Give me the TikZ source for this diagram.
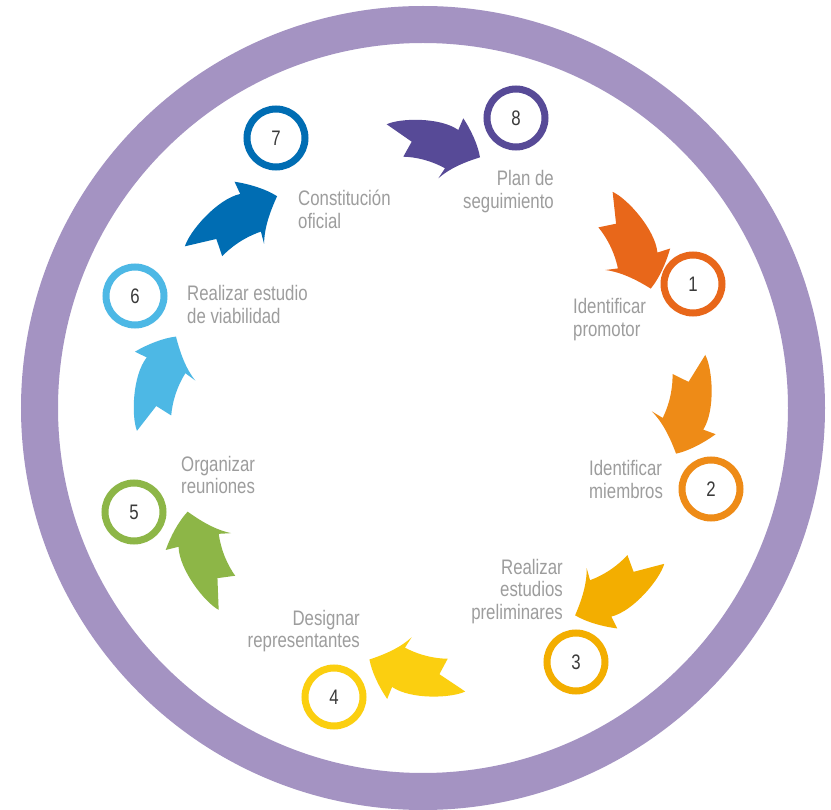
\documentclass[tikz,border=0pt]{standalone}
\usepackage{fontspec}
\setmainfont{Liberation Sans}[FakeStretch=0.8]
\definecolor{ringcol}{HTML}{A493C2}
\definecolor{c8}{HTML}{574A97}
\definecolor{c1}{HTML}{E8671A}
\definecolor{c2}{HTML}{EE8B17}
\definecolor{c3}{HTML}{F3AE00}
\definecolor{c4}{HTML}{FBCF10}
\definecolor{c5}{HTML}{8DB647}
\definecolor{c6}{HTML}{4DB8E5}
\definecolor{c7}{HTML}{006DB3}
\definecolor{labelcol}{HTML}{9D9D9D}
\definecolor{numcol}{HTML}{3A3A3A}
% curved swallow-tail arrow, drawn at the top of the cycle, scaled about its own
% middle (#3) and turned about the centre of the cycle (#2)
\newcommand\cyclearrow[3]{%
  \fill[#1, rotate around={#2:(423,408)}, shift={(434,148)}, scale=#3, shift={(-434,-148)}]
    (386.7,124.3) .. controls (400,118) and (440,117) .. (458.3,130)
    -- (463.3,118.3) .. controls (471,130) and (478,145) .. (480,157.3)
    .. controls (465,162) and (450,168) .. (438.3,178.3)
    -- (445,168.3) .. controls (430,160) and (415,157) .. (403.3,156.7)
    -- (411.7,141.7) -- cycle;}
\begin{document}
\begin{tikzpicture}[x=1pt,y=-1pt,
  stepring/.style={circle, draw=#1, line width=7pt, fill=white,
    minimum size=58pt, inner sep=0pt, text=numcol,
    font=\fontsize{21}{21}\selectfont},
  steptext/.style={text=labelcol, inner sep=0pt,
    font=\fontsize{21}{22.5}\selectfont},
]
\fill[white] (0,0) rectangle (831,810);
\useasboundingbox (0,0) rectangle (831,810);

% outer ring
\draw[ringcol, line width=37pt] (423,408) circle[radius=383.5];

% arrows between the steps
\cyclearrow{c8}{0}{1}
\cyclearrow{c1}{-49}{1.05}
\cyclearrow{c2}{-87}{1.04}
\cyclearrow{c3}{-130.5}{1.04}
\cyclearrow{c4}{-179}{1.02}
\cyclearrow{c5}{-233}{1.04}
\cyclearrow{c6}{-273}{1.03}
\cyclearrow{c7}{-312}{1.06}

% numbered steps
\node[stepring=c1] (s1) at (693,284) {1};
\node[stepring=c2] (s2) at (711,489) {2};
\node[stepring=c3] (s3) at (576,662) {3};
\node[stepring=c4] (s4) at (334,697) {4};
\node[stepring=c5] (s5) at (134,512) {5};
\node[stepring=c6] (s6) at (135,296) {6};
\node[stepring=c7] (s7) at (276,138) {7};
\node[stepring=c8] (s8) at (516,118) {8};

% step labels (anchored on the baseline of the last line)
\node[steptext, anchor=base west, align=left] (t1) at (573,336.5) {Identificar\\promotor};
\node[steptext, anchor=base west, align=left] (t2) at (589,498.5) {Identificar\\miembros};
\node[steptext, anchor=base east, align=right] (t3) at (563,619) {Realizar\\estudios\\preliminares};
\node[steptext, anchor=base east, align=right] (t4) at (360,647.5) {Designar\\representantes};
\node[steptext, anchor=base west, align=left] (t5) at (181,493.5) {Organizar\\reuniones};
\node[steptext, anchor=base west, align=left] (t6) at (187,323.5) {Realizar estudio\\de viabilidad};
\node[steptext, anchor=base west, align=left] (t7) at (298,228.5) {Constitución\\oficial};
\node[steptext, anchor=base east, align=right] (t8) at (554,208.5) {Plan de\\seguimiento};
\end{tikzpicture}
\end{document}
